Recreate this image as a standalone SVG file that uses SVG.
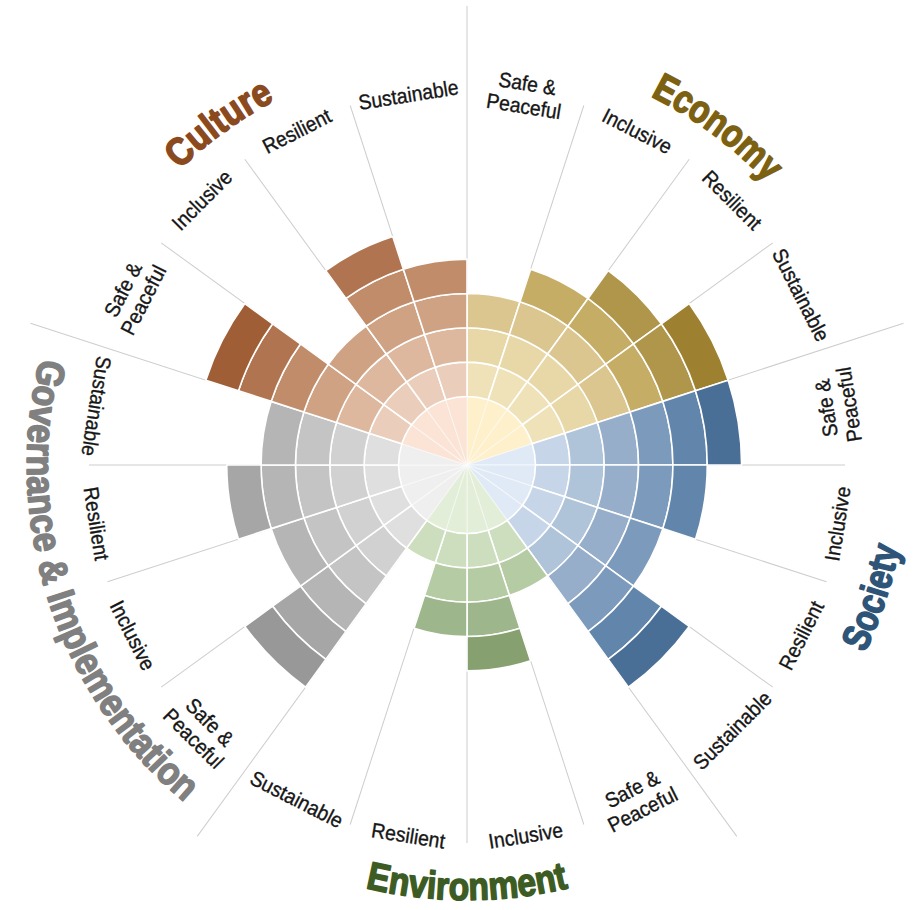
<svg xmlns="http://www.w3.org/2000/svg" xmlns:xlink="http://www.w3.org/1999/xlink" width="920" height="910" viewBox="0 0 920 910">
<defs>
<path id="s0" d="M0 0 L0 -68.5 A68.5 68.5 0 0 1 21.168 -65.147 Z"/>
<path id="s1" d="M0 -68.5 L0 -102.85 A102.85 102.85 0 0 1 31.782 -97.816 L21.168 -65.147 A68.5 68.5 0 0 0 0 -68.5 Z"/>
<path id="s2" d="M0 -102.85 L0 -137.2 A137.2 137.2 0 0 1 42.397 -130.485 L31.782 -97.816 A102.85 102.85 0 0 0 0 -102.85 Z"/>
<path id="s3" d="M0 -137.2 L0 -171.55 A171.55 171.55 0 0 1 53.012 -163.154 L42.397 -130.485 A137.2 137.2 0 0 0 0 -137.2 Z"/>
<path id="s4" d="M0 -171.55 L0 -205.9 A205.9 205.9 0 0 1 63.627 -195.823 L53.012 -163.154 A171.55 171.55 0 0 0 0 -171.55 Z"/>
<path id="s5" d="M0 -205.9 L0 -240.25 A240.25 240.25 0 0 1 74.241 -228.491 L63.627 -195.823 A205.9 205.9 0 0 0 0 -205.9 Z"/>
<path id="s6" d="M0 -240.25 L0 -274.6 A274.6 274.6 0 0 1 84.856 -261.160 L74.241 -228.491 A240.25 240.25 0 0 0 0 -240.25 Z"/>
<path id="arcEco" d="M510.06 55.25 A412 412 0 0 1 843.38 297.43"/>
<path id="arcCul" d="M90.62 297.43 A412 412 0 0 1 423.94 55.25"/>
<path id="arcSoc" d="M731.80 816.40 A440 440 0 0 0 887.78 336.36"/>
<path id="arcEnv" d="M217.49 821.33 A435 435 0 0 0 716.51 821.33"/>
<path id="arcGov" d="M106.57 212.62 A440 440 0 0 0 323.75 881.03"/>
</defs>
<style>
use { stroke:#ffffff; stroke-width:1.6; stroke-linejoin:round; }
use.core { stroke-width:1; stroke-opacity:0.55; }
.spk line { stroke:#cdcdcd; stroke-width:1; }
.lbl { font-family:"Liberation Sans",Arial,sans-serif; font-size:21px; fill:#161616; stroke:#161616; stroke-width:0.35; text-anchor:middle; }
.ttl { font-family:"Liberation Sans Narrow","Liberation Sans",Arial,sans-serif; font-size:39px; font-weight:bold; text-anchor:middle; stroke-width:1.6; stroke-linejoin:round; }
.e0{fill:#FEF0CA}.e1{fill:#F0E2B8}.e2{fill:#E8D8A8}.e3{fill:#DAC68E}.e4{fill:#C6AD66}.e5{fill:#B0964A}.e6{fill:#9D8030}
.o0{fill:#E0EAF6}.o1{fill:#C6D6E8}.o2{fill:#AFC3D9}.o3{fill:#96AECA}.o4{fill:#7C9BBC}.o5{fill:#6286AB}.o6{fill:#4A6F97}
.n0{fill:#E2EED8}.n1{fill:#CCDEBD}.n2{fill:#B5CBA4}.n3{fill:#9EB68B}.n4{fill:#87A070}
.g0{fill:#EFEFEF}.g1{fill:#DFDFDF}.g2{fill:#D1D1D1}.g3{fill:#C4C4C4}.g4{fill:#B5B5B5}.g5{fill:#A6A6A6}.g6{fill:#989898}
.c0{fill:#FBE3D5}.c1{fill:#EACDBA}.c2{fill:#DDB89E}.c3{fill:#CFA283}.c4{fill:#C08C6A}.c5{fill:#B07550}.c6{fill:#A05E36}
</style>
<rect width="920" height="910" fill="#ffffff"/>

<g id="connectors" class="spk">
<line x1="0" y1="0" x2="0" y2="-459" transform="translate(467 465) rotate(0)"/>
<line x1="0" y1="0" x2="0" y2="-378" transform="translate(467 465) rotate(18)"/>
<line x1="0" y1="0" x2="0" y2="-378" transform="translate(467 465) rotate(36)"/>
<line x1="0" y1="0" x2="0" y2="-378" transform="translate(467 465) rotate(54)"/>
<line x1="0" y1="0" x2="0" y2="-459" transform="translate(467 465) rotate(72)"/>
<line x1="0" y1="0" x2="0" y2="-378" transform="translate(467 465) rotate(90)"/>
<line x1="0" y1="0" x2="0" y2="-378" transform="translate(467 465) rotate(108)"/>
<line x1="0" y1="0" x2="0" y2="-378" transform="translate(467 465) rotate(126)"/>
<line x1="0" y1="0" x2="0" y2="-459" transform="translate(467 465) rotate(144)"/>
<line x1="0" y1="0" x2="0" y2="-378" transform="translate(467 465) rotate(162)"/>
<line x1="0" y1="0" x2="0" y2="-378" transform="translate(467 465) rotate(180)"/>
<line x1="0" y1="0" x2="0" y2="-378" transform="translate(467 465) rotate(198)"/>
<line x1="0" y1="0" x2="0" y2="-459" transform="translate(467 465) rotate(216)"/>
<line x1="0" y1="0" x2="0" y2="-378" transform="translate(467 465) rotate(234)"/>
<line x1="0" y1="0" x2="0" y2="-378" transform="translate(467 465) rotate(252)"/>
<line x1="0" y1="0" x2="0" y2="-378" transform="translate(467 465) rotate(270)"/>
<line x1="0" y1="0" x2="0" y2="-459" transform="translate(467 465) rotate(288)"/>
<line x1="0" y1="0" x2="0" y2="-378" transform="translate(467 465) rotate(306)"/>
<line x1="0" y1="0" x2="0" y2="-378" transform="translate(467 465) rotate(324)"/>
<line x1="0" y1="0" x2="0" y2="-378" transform="translate(467 465) rotate(342)"/>
</g>

<!-- Economy -->
<g id="economy-safe-peaceful">
<g transform="translate(467 465) rotate(0)"><use href="#s0" class="e0 core"/><use href="#s1" class="e1"/><use href="#s2" class="e2"/><use href="#s3" class="e3"/></g>
<text class="lbl" transform="translate(525.66 94.62) rotate(9) scale(0.92 1)"><tspan x="0" y="-4">Safe &amp;</tspan><tspan x="0" y="19">Peaceful</tspan></text>
</g>
<g id="economy-inclusive">
<g transform="translate(467 465) rotate(18)"><use href="#s0" class="e0 core"/><use href="#s1" class="e1"/><use href="#s2" class="e2"/><use href="#s3" class="e3"/><use href="#s4" class="e4"/></g>
<text class="lbl" transform="translate(637.25 130.87) rotate(27) scale(0.92 1)" y="7.5">Inclusive</text>
</g>
<g id="economy-resilient">
<g transform="translate(467 465) rotate(36)"><use href="#s0" class="e0 core"/><use href="#s1" class="e1"/><use href="#s2" class="e2"/><use href="#s3" class="e3"/><use href="#s4" class="e4"/><use href="#s5" class="e5"/></g>
<text class="lbl" transform="translate(732.17 199.84) rotate(45) scale(0.92 1)" y="7.5">Resilient</text>
</g>
<g id="economy-sustainable">
<g transform="translate(467 465) rotate(54)"><use href="#s0" class="e0 core"/><use href="#s1" class="e1"/><use href="#s2" class="e2"/><use href="#s3" class="e3"/><use href="#s4" class="e4"/><use href="#s5" class="e5"/><use href="#s6" class="e6"/></g>
<text class="lbl" transform="translate(801.13 294.75) rotate(63) scale(0.92 1)" y="7.5">Sustainable</text>
</g>

<!-- Society -->
<g id="society-safe-peaceful">
<g transform="translate(467 465) rotate(72)"><use href="#s0" class="o0 core"/><use href="#s1" class="o1"/><use href="#s2" class="o2"/><use href="#s3" class="o3"/><use href="#s4" class="o4"/><use href="#s5" class="o5"/><use href="#s6" class="o6"/></g>
<text class="lbl" transform="translate(837.38 406.34) rotate(-99) scale(0.92 1)"><tspan x="0" y="-4">Safe &amp;</tspan><tspan x="0" y="19">Peaceful</tspan></text>
</g>
<g id="society-inclusive">
<g transform="translate(467 465) rotate(90)"><use href="#s0" class="o0 core"/><use href="#s1" class="o1"/><use href="#s2" class="o2"/><use href="#s3" class="o3"/><use href="#s4" class="o4"/><use href="#s5" class="o5"/></g>
<text class="lbl" transform="translate(837.38 523.66) rotate(-81) scale(0.92 1)" y="7.5">Inclusive</text>
</g>
<g id="society-resilient">
<g transform="translate(467 465) rotate(108)"><use href="#s0" class="o0 core"/><use href="#s1" class="o1"/><use href="#s2" class="o2"/><use href="#s3" class="o3"/><use href="#s4" class="o4"/></g>
<text class="lbl" transform="translate(801.13 635.25) rotate(-63) scale(0.92 1)" y="7.5">Resilient</text>
</g>
<g id="society-sustainable">
<g transform="translate(467 465) rotate(126)"><use href="#s0" class="o0 core"/><use href="#s1" class="o1"/><use href="#s2" class="o2"/><use href="#s3" class="o3"/><use href="#s4" class="o4"/><use href="#s5" class="o5"/><use href="#s6" class="o6"/></g>
<text class="lbl" transform="translate(732.17 730.17) rotate(-45) scale(0.92 1)" y="7.5">Sustainable</text>
</g>

<!-- Environment -->
<g id="environment-safe-peaceful">
<g transform="translate(467 465) rotate(144)"><use href="#s0" class="n0 core"/><use href="#s1" class="n1"/><use href="#s2" class="n2"/></g>
<text class="lbl" transform="translate(637.25 799.13) rotate(-27) scale(0.92 1)"><tspan x="0" y="-4">Safe &amp;</tspan><tspan x="0" y="19">Peaceful</tspan></text>
</g>
<g id="environment-inclusive">
<g transform="translate(467 465) rotate(162)"><use href="#s0" class="n0 core"/><use href="#s1" class="n1"/><use href="#s2" class="n2"/><use href="#s3" class="n3"/><use href="#s4" class="n4"/></g>
<text class="lbl" transform="translate(525.66 835.38) rotate(-9) scale(0.92 1)" y="7.5">Inclusive</text>
</g>
<g id="environment-resilient">
<g transform="translate(467 465) rotate(180)"><use href="#s0" class="n0 core"/><use href="#s1" class="n1"/><use href="#s2" class="n2"/><use href="#s3" class="n3"/></g>
<text class="lbl" transform="translate(408.34 835.38) rotate(9) scale(0.92 1)" y="7.5">Resilient</text>
</g>
<g id="environment-sustainable">
<g transform="translate(467 465) rotate(198)"><use href="#s0" class="n0 core"/><use href="#s1" class="n1"/></g>
<text class="lbl" transform="translate(296.75 799.13) rotate(27) scale(0.92 1)" y="7.5">Sustainable</text>
</g>

<!-- Governance & Implementation -->
<g id="governance-safe-peaceful">
<g transform="translate(467 465) rotate(216)"><use href="#s0" class="g0 core"/><use href="#s1" class="g1"/><use href="#s2" class="g2"/><use href="#s3" class="g3"/><use href="#s4" class="g4"/><use href="#s5" class="g5"/><use href="#s6" class="g6"/></g>
<text class="lbl" transform="translate(201.83 730.17) rotate(45) scale(0.92 1)"><tspan x="0" y="-4">Safe &amp;</tspan><tspan x="0" y="19">Peaceful</tspan></text>
</g>
<g id="governance-inclusive">
<g transform="translate(467 465) rotate(234)"><use href="#s0" class="g0 core"/><use href="#s1" class="g1"/><use href="#s2" class="g2"/><use href="#s3" class="g3"/><use href="#s4" class="g4"/></g>
<text class="lbl" transform="translate(132.87 635.25) rotate(63) scale(0.92 1)" y="7.5">Inclusive</text>
</g>
<g id="governance-resilient">
<g transform="translate(467 465) rotate(252)"><use href="#s0" class="g0 core"/><use href="#s1" class="g1"/><use href="#s2" class="g2"/><use href="#s3" class="g3"/><use href="#s4" class="g4"/><use href="#s5" class="g5"/></g>
<text class="lbl" transform="translate(96.62 523.66) rotate(81) scale(0.92 1)" y="7.5">Resilient</text>
</g>
<g id="governance-sustainable">
<g transform="translate(467 465) rotate(270)"><use href="#s0" class="g0 core"/><use href="#s1" class="g1"/><use href="#s2" class="g2"/><use href="#s3" class="g3"/><use href="#s4" class="g4"/></g>
<text class="lbl" transform="translate(96.62 406.34) rotate(99) scale(0.92 1)" y="7.5">Sustainable</text>
</g>

<!-- Culture -->
<g id="culture-safe-peaceful">
<g transform="translate(467 465) rotate(288)"><use href="#s0" class="c0 core"/><use href="#s1" class="c1"/><use href="#s2" class="c2"/><use href="#s3" class="c3"/><use href="#s4" class="c4"/><use href="#s5" class="c5"/><use href="#s6" class="c6"/></g>
<text class="lbl" transform="translate(132.87 294.75) rotate(-63) scale(0.92 1)"><tspan x="0" y="-4">Safe &amp;</tspan><tspan x="0" y="19">Peaceful</tspan></text>
</g>
<g id="culture-inclusive">
<g transform="translate(467 465) rotate(306)"><use href="#s0" class="c0 core"/><use href="#s1" class="c1"/><use href="#s2" class="c2"/><use href="#s3" class="c3"/></g>
<text class="lbl" transform="translate(201.83 199.84) rotate(-45) scale(0.92 1)" y="7.5">Inclusive</text>
</g>
<g id="culture-resilient">
<g transform="translate(467 465) rotate(324)"><use href="#s0" class="c0 core"/><use href="#s1" class="c1"/><use href="#s2" class="c2"/><use href="#s3" class="c3"/><use href="#s4" class="c4"/><use href="#s5" class="c5"/></g>
<text class="lbl" transform="translate(296.75 130.87) rotate(-27) scale(0.92 1)" y="7.5">Resilient</text>
</g>
<g id="culture-sustainable">
<g transform="translate(467 465) rotate(342)"><use href="#s0" class="c0 core"/><use href="#s1" class="c1"/><use href="#s2" class="c2"/><use href="#s3" class="c3"/><use href="#s4" class="c4"/></g>
<text class="lbl" transform="translate(408.34 94.62) rotate(-9) scale(0.92 1)" y="7.5">Sustainable</text>
</g>

<!-- Domain titles -->
<g id="title-economy"><text class="ttl" fill="#7D6112" stroke="#7D6112"><textPath href="#arcEco" startOffset="51%" textLength="146" lengthAdjust="spacingAndGlyphs">Economy</textPath></text></g>
<g id="title-society"><text class="ttl" fill="#2E5578" stroke="#2E5578"><textPath href="#arcSoc" startOffset="50%" textLength="112" lengthAdjust="spacingAndGlyphs">Society</textPath></text></g>
<g id="title-environment"><text class="ttl" fill="#3D5C24" stroke="#3D5C24"><textPath href="#arcEnv" startOffset="50%" textLength="205" lengthAdjust="spacingAndGlyphs">Environment</textPath></text></g>
<g id="title-governance"><text class="ttl" fill="#808080" stroke="#808080"><textPath href="#arcGov" startOffset="50%" textLength="492" lengthAdjust="spacingAndGlyphs">Governance &amp; Implementation</textPath></text></g>
<g id="title-culture"><text class="ttl" fill="#8B4A1E" stroke="#8B4A1E"><textPath href="#arcCul" startOffset="50%" textLength="118" lengthAdjust="spacingAndGlyphs">Culture</textPath></text></g>
</svg>
